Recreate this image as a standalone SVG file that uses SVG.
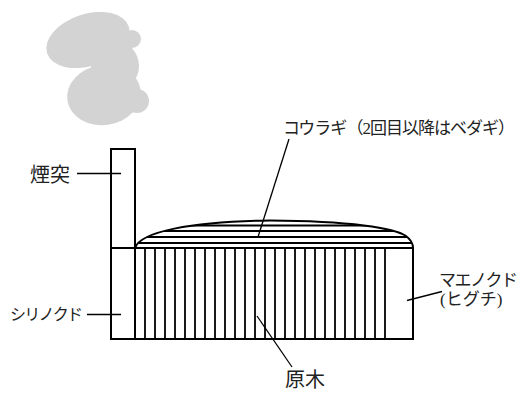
<svg xmlns="http://www.w3.org/2000/svg" width="523" height="396" viewBox="0 0 523 396">
  <style>
    .lbl { font-family: "Liberation Serif", "Noto Sans CJK JP", serif; fill: #222; }
    .edge { fill: none; stroke: #000; stroke-width: 2; }
    .slat { stroke: #000; stroke-width: 1.8; }
    .lead { stroke: #000; stroke-width: 1.3; fill: none; }
    .smoke { fill: #d3d3d3; }
  </style>
  <defs>
    <clipPath id="domeClip">
      <path d="M135,248 C140,232 190,221.5 270,220.5 C350,221 395,228 406,236 C412,240.5 413,244 413,248 Z"/>
    </clipPath>
  </defs>
  <rect width="523" height="396" fill="#fff"/>

  <!-- smoke rising from the chimney: a cloud built from overlapping puffs -->
  <g id="smoke" class="smoke">
    <ellipse cx="88" cy="40" rx="43" ry="26" transform="rotate(-18 88 40)"/>
    <circle cx="132" cy="39" r="9"/>
    <ellipse cx="115" cy="66" rx="24" ry="25"/>
    <ellipse cx="104" cy="95" rx="37" ry="30" transform="rotate(-8 104 95)"/>
    <circle cx="137" cy="101" r="12"/>
  </g>

  <!-- chimney -->
  <g id="chimney">
    <rect class="edge" x="111" y="149" width="24" height="99"/>
  </g>

  <!-- rear firebox -->
  <g id="rear-firebox">
    <rect class="edge" x="111" y="248" width="24" height="91"/>
  </g>

  <!-- log stack -->
  <g id="logs">
    <rect class="edge" x="135" y="248" width="278" height="91"/>
    <g class="slat">
      <line x1="145" y1="248" x2="145" y2="339"/>
      <line x1="155" y1="248" x2="155" y2="339"/>
      <line x1="165" y1="248" x2="165" y2="339"/>
      <line x1="175" y1="248" x2="175" y2="339"/>
      <line x1="185" y1="248" x2="185" y2="339"/>
      <line x1="195" y1="248" x2="195" y2="339"/>
      <line x1="205" y1="248" x2="205" y2="339"/>
      <line x1="215" y1="248" x2="215" y2="339"/>
      <line x1="225" y1="248" x2="225" y2="339"/>
      <line x1="235" y1="248" x2="235" y2="339"/>
      <line x1="245" y1="248" x2="245" y2="339"/>
      <line x1="255" y1="248" x2="255" y2="339"/>
      <line x1="265" y1="248" x2="265" y2="339"/>
      <line x1="275" y1="248" x2="275" y2="339"/>
      <line x1="285" y1="248" x2="285" y2="339"/>
      <line x1="295" y1="248" x2="295" y2="339"/>
      <line x1="305" y1="248" x2="305" y2="339"/>
      <line x1="315" y1="248" x2="315" y2="339"/>
      <line x1="325" y1="248" x2="325" y2="339"/>
      <line x1="335" y1="248" x2="335" y2="339"/>
      <line x1="345" y1="248" x2="345" y2="339"/>
      <line x1="355" y1="248" x2="355" y2="339"/>
      <line x1="365" y1="248" x2="365" y2="339"/>
      <line x1="375" y1="248" x2="375" y2="339"/>
      <line x1="385" y1="248" x2="385" y2="339"/>
    </g>
  </g>

  <!-- top cover of horizontal logs -->
  <g id="cover">
    <g clip-path="url(#domeClip)" class="slat" stroke-width="1.6">
      <line x1="130" y1="243" x2="420" y2="243"/>
      <line x1="130" y1="237" x2="420" y2="237"/>
      <line x1="130" y1="231" x2="420" y2="231"/>
      <line x1="130" y1="225.5" x2="420" y2="225.5"/>
    </g>
    <path class="edge" d="M135,248 C140,232 190,221.5 270,220.5 C350,221 395,228 406,236 C412,240.5 413,244 413,248"/>
  </g>

  <!-- leader lines -->
  <g id="connectors">
    <line class="lead" x1="289" y1="139" x2="258" y2="237"/>
    <line class="lead" x1="77" y1="173.5" x2="121" y2="173.5"/>
    <line class="lead" x1="87" y1="314.5" x2="121" y2="314.5"/>
    <line class="lead" x1="407" y1="300.5" x2="442" y2="291.5"/>
    <line class="lead" x1="257" y1="316" x2="292" y2="367"/>
  </g>

  <g id="label-cover">
    <text class="lbl" x="283" y="134" font-size="17" textLength="232" lengthAdjust="spacing">コウラギ（2回目以降はベダギ）</text>
  </g>
  <g id="label-chimney">
    <text class="lbl" x="30" y="182" font-size="20">煙突</text>
  </g>
  <g id="label-rear">
    <text class="lbl" x="10" y="320" font-size="16" textLength="73" lengthAdjust="spacing">シリノクド</text>
  </g>
  <g id="label-front">
    <text class="lbl" x="439" y="286" font-size="17" textLength="79" lengthAdjust="spacing">マエノクド</text>
    <text class="lbl" x="440" y="305" font-size="17">(ヒグチ)</text>
  </g>
  <g id="label-logs">
    <text class="lbl" x="285" y="387" font-size="20">原木</text>
  </g>
</svg>
